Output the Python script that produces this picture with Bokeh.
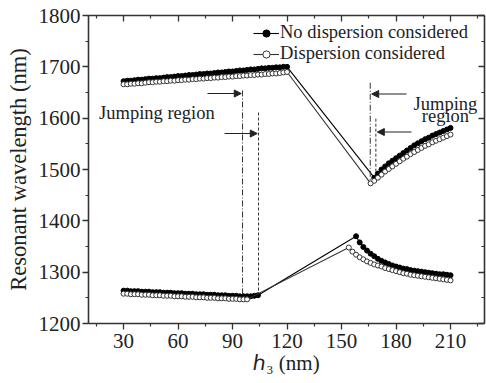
import numpy as np
from bokeh.plotting import figure
from bokeh.models import (Range1d, LinearAxis, FixedTicker, SingleIntervalTicker,
                          Label, Arrow, NormalHead, Legend, LegendItem,
                          CustomJSTickFormatter)
from bokeh.embed import file_html
from bokeh.resources import INLINE

# ---------------- data ----------------
# upper branch, no dispersion (filled)
h_up_nd = list(range(30, 121, 2)) + list(range(168, 211, 2))
lam_up_nd = [1672, 1673, 1673, 1674, 1675, 1675, 1676, 1677, 1677, 1678,
             1678, 1679, 1680, 1680, 1681, 1682, 1682, 1683, 1684, 1684,
             1685, 1686, 1686, 1687, 1687, 1688, 1689, 1689, 1690, 1691,
             1691, 1692, 1693, 1693, 1694, 1695, 1695, 1696, 1697, 1697,
             1698, 1698, 1699, 1699, 1700, 1700,
             1484, 1492, 1500, 1506, 1512, 1517, 1522, 1527, 1532, 1537,
             1542, 1547, 1551, 1555, 1559, 1562, 1566, 1569, 1572, 1575,
             1578, 1581]
# upper branch, dispersion (open)
h_up_d = list(range(30, 121, 2)) + list(range(166, 211, 2))
lam_up_d = [1666, 1666, 1667, 1667, 1668, 1668, 1669, 1670, 1670, 1671,
            1671, 1672, 1672, 1673, 1673, 1674, 1674, 1675, 1675, 1676,
            1676, 1677, 1677, 1678, 1678, 1679, 1679, 1680, 1680, 1681,
            1681, 1682, 1682, 1683, 1683, 1684, 1684, 1685, 1685, 1686,
            1686, 1687, 1687, 1688, 1689, 1690,
            1473, 1478, 1484, 1490, 1496, 1501, 1506, 1511, 1516, 1521,
            1525, 1530, 1534, 1538, 1542, 1546, 1549, 1553, 1556, 1559,
            1562, 1565, 1568]
# lower branch, no dispersion (filled)
h_lo_nd = list(range(30, 105, 2)) + list(range(158, 211, 2))
lam_lo_nd = [1264, 1264, 1263, 1263, 1263, 1262, 1262, 1262, 1261, 1261,
             1261, 1260, 1260, 1260, 1259, 1259, 1259, 1258, 1258, 1258,
             1257, 1257, 1257, 1256, 1256, 1256, 1255, 1255, 1255, 1254,
             1254, 1254, 1253, 1253, 1253, 1253, 1254, 1255,
             1370, 1358, 1349, 1342, 1336, 1331, 1326, 1322, 1319, 1316,
             1313, 1311, 1309, 1307, 1306, 1304, 1303, 1302, 1301, 1300,
             1299, 1298, 1297, 1296, 1296, 1295, 1294]
# lower branch, dispersion (open)
h_lo_d = list(range(30, 99, 2)) + list(range(154, 211, 2))
lam_lo_d = [1258, 1258, 1257, 1257, 1257, 1256, 1256, 1256, 1255, 1255,
            1255, 1254, 1254, 1254, 1253, 1253, 1253, 1252, 1252, 1252,
            1251, 1251, 1251, 1250, 1250, 1250, 1249, 1249, 1249, 1248,
            1248, 1248, 1247, 1247, 1247,
            1348, 1340, 1334, 1329, 1325, 1321, 1318, 1315, 1313, 1311,
            1308, 1306, 1304, 1302, 1300, 1298, 1297, 1295, 1294, 1293,
            1292, 1291, 1290, 1289, 1288, 1287, 1286, 1285, 1284]

x_ticks = [30, 60, 90, 120, 150, 180, 210]
x_minor = [15, 45, 75, 105, 135, 165, 195, 225]
series_labels = ["No dispersion considered", "Dispersion considered"]

# annotation geometry (vertical guide lines and arrows)
vx0 = [95.5, 104.3, 165.8, 168.9]
vy0 = [1654, 1611, 1669, 1599]
vy1 = [1248, 1257, 1480, 1492]
vdash = ["6 2 1 2", "3 2", "6 2 1 2", "3 2"]
arrows = [(76.2, 94.8, 1648), (85.6, 103.6, 1570), (185.8, 166.6, 1647), (188.5, 169.7, 1573)]

FONT = "Liberation Serif"
INK = "#222222"

p = figure(width=486, height=383, output_backend="svg", toolbar_location=None,
           x_range=Range1d(10.7, 228.7), y_range=Range1d(1200, 1800),
           min_border_left=88, min_border_right=2, min_border_top=15,
           min_border_bottom=60, background_fill_color="white",
           border_fill_color="white")
p.xgrid.visible = False
p.ygrid.visible = False
p.outline_line_color = None

xt = FixedTicker(ticks=x_ticks, minor_ticks=x_minor)
yt = SingleIntervalTicker(interval=100, num_minor_ticks=2)

def style(ax, outward=True, labels=True):
    ax.axis_line_color = "#333333"
    ax.axis_line_width = 1.6
    ax.major_tick_line_color = "#333333"
    ax.minor_tick_line_color = "#333333"
    ax.major_tick_line_width = 1.3
    ax.minor_tick_line_width = 1.2
    if outward:
        ax.major_tick_out, ax.major_tick_in = 6, 0
        ax.minor_tick_out, ax.minor_tick_in = 3, 0
    else:
        ax.major_tick_out, ax.major_tick_in = 0, 6
        ax.minor_tick_out, ax.minor_tick_in = 0, 3
    if labels:
        ax.major_label_text_font = FONT
        ax.major_label_text_font_size = "21px"
        ax.major_label_text_color = INK
    else:
        ax.formatter = CustomJSTickFormatter(code="return ''")
        ax.major_label_standoff = 0
        ax.axis_label = None

xa = p.xaxis[0]
xa.ticker = xt
style(xa)
xa.major_label_standoff = 4
xa.axis_label = "\u210e\u2083 (nm)"
xa.axis_label_text_font = FONT
xa.axis_label_text_font_size = "21px"
xa.axis_label_text_font_style = "normal"
xa.axis_label_text_color = INK
xa.axis_label_standoff = 0

ya = p.yaxis[0]
ya.ticker = yt
style(ya)
ya.major_label_standoff = 2
ya.axis_label = "Resonant wavelength (nm)"
ya.axis_label_text_font = FONT
ya.axis_label_text_font_size = "22.5px"
ya.axis_label_text_font_style = "normal"
ya.axis_label_text_color = INK
ya.axis_label_standoff = 5

ra = LinearAxis(ticker=yt)
style(ra, outward=False, labels=False)
p.add_layout(ra, "right")
ta = LinearAxis(ticker=xt)
style(ta, outward=False, labels=False)
p.add_layout(ta, "above")

# ---------------- series ----------------
MS = 5
l1 = p.line(h_up_nd, lam_up_nd, line_color="black", line_width=1.1)
s1 = p.scatter(h_up_nd, lam_up_nd, marker="circle", size=MS,
               fill_color="black", line_color="black", line_width=1)
p.line(h_lo_nd, lam_lo_nd, line_color="black", line_width=1.1)
p.scatter(h_lo_nd, lam_lo_nd, marker="circle", size=MS,
          fill_color="black", line_color="black", line_width=1)

l2 = p.line(h_up_d, lam_up_d, line_color="#333333", line_width=1.1)
s2 = p.scatter(h_up_d, lam_up_d, marker="circle", size=MS,
               fill_color="white", line_color="#333333", line_width=1)
p.line(h_lo_d, lam_lo_d, line_color="#333333", line_width=1.1)
p.scatter(h_lo_d, lam_lo_d, marker="circle", size=MS,
          fill_color="white", line_color="#333333", line_width=1)

# ---------------- annotations ----------------
for x, a, b, d in zip(vx0, vy0, vy1, vdash):
    p.segment(x0=[x], y0=[a], x1=[x], y1=[b], line_color="#333333",
              line_width=1, line_dash=d)

for xs, xe, yy in arrows:
    p.add_layout(Arrow(x_start=xs, y_start=yy, x_end=xe, y_end=yy,
                       line_color="#222222", line_width=1.1,
                       end=NormalHead(size=7, fill_color="#222222",
                                      line_color="#222222")))

def lab(x, y, t, size="18.5px", align="left", style_="normal"):
    p.add_layout(Label(x=x, y=y, text=t, text_font=FONT, text_font_size=size,
                       text_color=INK, text_align=align,
                       text_baseline="alphabetic", text_font_style=style_))

lab(16.5, 1610, "Jumping region")
lab(207.2, 1628, "Jumping", align="center")
lab(207.2, 1604, "region", align="center")

# ---------------- legend ----------------
legend = Legend(items=[LegendItem(label=series_labels[0], renderers=[l1, s1]),
                       LegendItem(label=series_labels[1], renderers=[l2, s2])],
                location=(163, 257), background_fill_alpha=0,
                border_line_alpha=0, label_text_font=FONT,
                label_text_font_size="18.5px", label_text_color=INK,
                glyph_width=26, glyph_height=18, label_height=18,
                label_standoff=1, spacing=0, padding=2, margin=0)
p.add_layout(legend)

open("out.html", "w").write(file_html(p, INLINE))
